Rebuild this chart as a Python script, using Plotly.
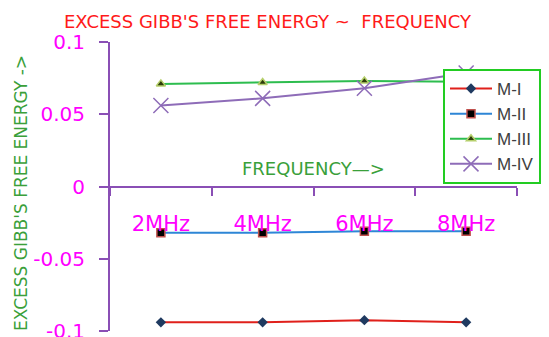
import plotly.graph_objects as go

# Frequencies and excess Gibbs free energy for four mixtures
frequencies = ["2MHz", "4MHz", "6MHz", "8MHz"]
m_i = [-0.094, -0.094, -0.0925, -0.094]
m_ii = [-0.032, -0.032, -0.031, -0.031]
m_iii = [0.071, 0.072, 0.073, 0.0725]
m_iv = [0.056, 0.061, 0.068, 0.0785]

y_ticks = [0.1, 0.05, 0, -0.05, -0.1]
y_tick_text = ["0.1", "0.05", "0", "-0.05", "-0.1"]

axis_color = "#8a4fb5"
label_color = "#ff00ff"
green_text = "#3aa03a"

fig = go.Figure()

fig.add_trace(go.Scatter(
    x=frequencies, y=m_i, name="M-I", mode="lines+markers",
    line=dict(color="#e0201b", width=2),
    marker=dict(symbol="diamond", size=8, color="#1f3a60"),
))
fig.add_trace(go.Scatter(
    x=frequencies, y=m_ii, name="M-II", mode="lines+markers",
    line=dict(color="#2e86d6", width=2),
    marker=dict(symbol="square", size=8, color="#000000",
                line=dict(color="#c0504d", width=1.5)),
))
fig.add_trace(go.Scatter(
    x=frequencies, y=m_iii, name="M-III", mode="lines+markers",
    line=dict(color="#2dbd4f", width=2),
    marker=dict(symbol="triangle-up", size=8, color="#2d3b0a",
                line=dict(color="#b5cf6b", width=1.5)),
))
fig.add_trace(go.Scatter(
    x=frequencies, y=m_iv, name="M-IV", mode="lines+markers",
    line=dict(color="#8e6cb8", width=2),
    marker=dict(symbol="x-thin-open", size=15,
                line=dict(color="#8e6cb8", width=1.5)),
))

fig.update_layout(
    width=549, height=337,
    margin=dict(l=110, r=32, t=42, b=6, autoexpand=False),
    paper_bgcolor="white", plot_bgcolor="white",
    font=dict(family="DejaVu Sans"),
    showlegend=True,
    legend=dict(
        x=(443 - 110) / 407, y=(331 - 69) / 289, xanchor="left", yanchor="top",
        bgcolor="white", bordercolor="#22cc22", borderwidth=2,
        font=dict(family="Liberation Sans", size=17, color="#404040"),
        itemwidth=42, tracegroupgap=0,
    ),
    xaxis=dict(
        type="category", range=[-0.5, 3.5],
        anchor="free", position=0.5, automargin=False,
        showline=True, linecolor=axis_color, linewidth=2,
        ticks="outside", tickson="boundaries", ticklen=8,
        tickcolor=axis_color, tickwidth=2,
        tickfont=dict(family="DejaVu Sans", size=21, color=label_color),
        ticklabelstandoff=18,
        showgrid=False, zeroline=False,
    ),
    yaxis=dict(
        range=[-0.1, 0.1], domain=[0, 1], automargin=False,
        showline=True, linecolor=axis_color, linewidth=2,
        ticks="outside", ticklen=9, tickcolor=axis_color, tickwidth=2,
        tickvals=y_ticks, ticktext=y_tick_text,
        tickfont=dict(family="DejaVu Sans", size=20, color=label_color),
        ticklabelstandoff=10, ticklabeloverflow="allow",
        showgrid=False, zeroline=False,
    ),
    annotations=[
        dict(text="EXCESS GIBB'S FREE ENERGY ~  FREQUENCY",
             xref="paper", yref="paper", x=(268 - 110) / 407, y=(331 - 21) / 289,
             xanchor="center", yanchor="middle", showarrow=False,
             font=dict(family="DejaVu Sans", size=18, color="#ff1a1a")),
        dict(text="EXCESS GIBB'S FREE ENERGY ->",
             xref="paper", yref="paper", x=(21 - 110) / 407, y=(331 - 193) / 289,
             xanchor="center", yanchor="middle", showarrow=False, textangle=-90,
             font=dict(family="DejaVu Sans", size=17, color=green_text)),
        dict(text="FREQUENCY\u2014>",
             xref="paper", yref="paper", x=(313 - 110) / 407, y=(331 - 168) / 289,
             xanchor="center", yanchor="middle", showarrow=False,
             font=dict(family="DejaVu Sans", size=18, color=green_text)),
    ],
)

fig.write_html("out.html")
